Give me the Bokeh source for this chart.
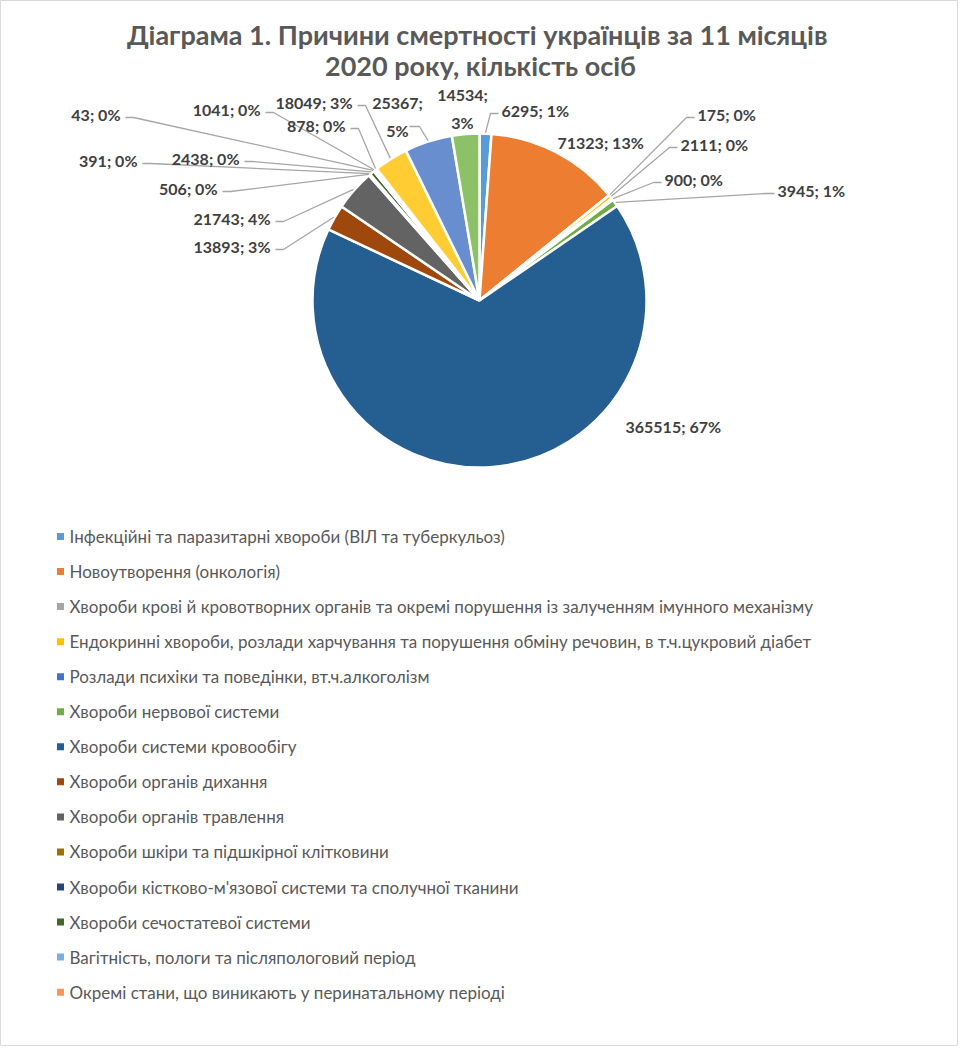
import math
from bokeh.plotting import figure
from bokeh.models import ColumnDataSource, Range1d
from bokeh.core.properties import value
from bokeh.embed import file_html
from bokeh.resources import INLINE

# ---------------- data ----------------
title_lines = ["Діаграма 1. Причини смертності  українців за 11 місяців",
               "2020 року, кількість осіб"]

categories = [
    "Інфекційні та паразитарні хвороби (ВІЛ та туберкульоз)",
    "Новоутворення (онкологія)",
    "Хвороби крові й кровотворних органів та окремі порушення із залученням імунного механізму",
    "Ендокринні хвороби, розлади харчування та порушення обміну речовин, в т.ч.цукровий діабет",
    "Розлади психіки та поведінки, вт.ч.алкоголізм",
    "Хвороби нервової системи",
    "Хвороби системи кровообігу",
    "Хвороби органів дихання",
    "Хвороби органів травлення",
    "Хвороби шкіри та підшкірної клітковини",
    "Хвороби кістково-м'язової системи та сполучної тканини",
    "Хвороби сечостатевої системи",
    "Вагітність, пологи та післяпологовий період",
    "Окремі стани, що виникають у перинатальному періоді",
]

values = [6295, 71323, 175, 2111, 900, 3945, 365515, 13893, 21743,
          506, 391, 2438, 43, 1041, 878, 18049, 25367, 14534]

percent_labels = ["1%", "13%", "0%", "0%", "0%", "1%", "67%", "3%", "4%",
                  "0%", "0%", "0%", "0%", "0%", "0%", "3%", "5%", "3%"]

colors = ["#5B9BD5", "#ED7D31", "#A5A5A5", "#FFC000", "#4472C4", "#70AD47",
          "#255E91", "#9E480E", "#636363", "#997300", "#264478", "#43682B",
          "#7CAFDD", "#F1975A", "#B7B7B7", "#FFCD33", "#698ED0", "#8CC168"]

# ---------------- layout (pixel positions in the reference image) ----------------
W, H = 958, 1046
def X(xi):
    return xi - 8
def Y(yi):
    return H + 8 - yi

CX, CY, R = X(487), Y(308), 167

# label placement: (x, y, align, leader)
label_pos = [
    (509, 118, "left", True),
    (565, 150, "left", False),
    (705, 122, "left", True),
    (688, 152, "left", True),
    (672, 187, "left", True),
    (785, 198, "left", True),
    (633, 434, "left", False),
    (278, 254, "right", True),
    (278, 226, "right", True),
    (225, 196, "right", True),
    (145, 168, "right", True),
    (247, 166, "right", True),
    (128, 122, "right", True),
    (268, 117, "right", True),
    (353, 133, "right", True),
    (360, 110, "right", True),
    (405, 124, "center", True),
    (470, 116, "center", False),
]
two_line = {16, 17}

total = float(sum(values))
starts, ends, mids = [], [], []
cum = 0.0
for v in values:
    a0 = math.pi / 2 - 2 * math.pi * cum / total
    cum += v
    a1 = math.pi / 2 - 2 * math.pi * cum / total
    starts.append(a0)
    ends.append(a1)
    mids.append((a0 + a1) / 2)

p = figure(width=W, height=H, output_backend="svg", toolbar_location=None,
           x_range=Range1d(0, W), y_range=Range1d(0, H),
           x_axis_location=None, y_axis_location=None, min_border=0)
p.grid.visible = False
p.outline_line_color = "#D9D9D9"
p.background_fill_color = "white"

src = ColumnDataSource(dict(start=starts, end=ends, color=colors))
p.wedge(x=CX, y=CY, radius=R, start_angle="start", end_angle="end",
        direction="clock", fill_color="color", line_color="white",
        line_width=2.5, source=src)

# leader lines & labels
lx, ly, ltxt, lalign = [], [], [], []
for i, v in enumerate(values):
    x, y, align, leader = label_pos[i]
    if i in two_line:
        txt = f"{v};\n{percent_labels[i]}"
    else:
        txt = f"{v}; {percent_labels[i]}"
    lx.append(X(x)); ly.append(Y(y)); ltxt.append(txt); lalign.append(align)
    if leader:
        ax = CX + (R + 1) * math.cos(mids[i])
        ay = CY + (R + 1) * math.sin(mids[i])
        if align == "left":
            ex = X(x) - 3
            elbow = ex - 8
        elif align == "right":
            ex = X(x) + 5
            elbow = ex + 8
        else:
            ex = X(x) + 12
            elbow = ex + 10
        ey = Y(y) - (10 if i in two_line else 3)
        p.line([ex, elbow, ax], [ey, ey, ay], line_color="#A6A6A6", line_width=1.3)

for al in ("left", "right", "center"):
    idx = [k for k in range(len(lx)) if lalign[k] == al]
    p.text(x=[lx[k] for k in idx], y=[ly[k] for k in idx], text=[ltxt[k] for k in idx],
           text_font=value("Lato"), text_font_style="bold", text_font_size="16px",
           text_color="#404040", text_align=al, text_baseline="middle",
           text_line_height=1.45)

# title
p.text(x=[X(488), X(488)], y=[Y(42), Y(73)], text=title_lines,
       text_font=value("Lato"), text_font_style="bold", text_font_size="27px",
       text_color="#595959", text_align="center", text_baseline="middle")

# legend
leg_y = [Y(544 + 35.05 * k) for k in range(len(categories))]
p.scatter(x=[X(68)] * len(categories), y=leg_y, marker="square", size=7,
          fill_color=colors[:len(categories)], line_color=None)
p.text(x=[X(77)] * len(categories), y=leg_y, text=categories,
       text_font=value("Lato"), text_font_size="17px", text_color="#595959",
       text_align="left", text_baseline="middle")

open("out.html", "w").write(file_html(p, INLINE))
